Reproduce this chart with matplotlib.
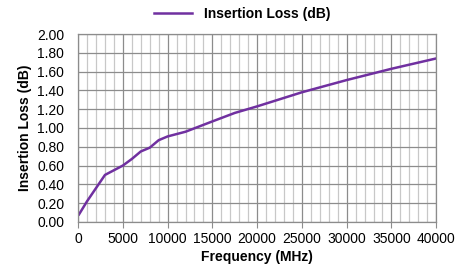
import matplotlib
matplotlib.use("Agg")
from matplotlib import pyplot as plt
from matplotlib.ticker import MultipleLocator

plt.rcParams['font.family'] = ['Liberation Sans', 'DejaVu Sans']

# values
freq_mhz = [100, 1000, 2000, 3000, 4000, 5000, 6000, 7000, 8000, 9000, 10000,
            12000, 15000, 17500, 20000, 25000, 30000, 35000, 40000]
loss_db = [0.08, 0.22, 0.36, 0.50, 0.55, 0.60, 0.67, 0.75, 0.79, 0.87, 0.91,
           0.96, 1.07, 1.16, 1.23, 1.38, 1.51, 1.63, 1.74]

fig = plt.figure(figsize=(4.65, 2.68), dpi=100)
ax = fig.add_axes([0.168, 0.172, 0.770, 0.701])

ax.plot(freq_mhz, loss_db, color='#7030a0', lw=1.8, label='Insertion Loss (dB)')

ax.set_xlim(0, 40000)
ax.set_ylim(0, 2.0)
ax.xaxis.set_major_locator(MultipleLocator(5000))
ax.xaxis.set_minor_locator(MultipleLocator(1000))
ax.yaxis.set_major_locator(MultipleLocator(0.2))
ax.yaxis.set_major_formatter(lambda v, p: f"{v:.2f}")

ax.grid(which='major', color='#8c8c8c', lw=0.9)
ax.grid(which='minor', axis='x', color='#c8c8c8', lw=0.9)
ax.set_axisbelow(True)
for s in ax.spines.values():
    s.set_color('#8c8c8c')
    s.set_linewidth(0.9)

ax.tick_params(which='major', length=4, color='#8c8c8c', labelsize=10)
ax.tick_params(which='minor', length=0)
ax.tick_params(axis='y', length=0, pad=10)

ax.set_xlabel('Frequency (MHz)', fontsize=10, fontweight='bold', labelpad=3)
ax.set_ylabel('Insertion Loss (dB)', fontsize=10, fontweight='bold', labelpad=4)

leg = fig.legend(loc='upper center', bbox_to_anchor=(0.52, 1.02), frameon=False,
                 prop={'size': 10, 'weight': 'bold'}, handlelength=2.8)

fig.savefig('out.png', dpi=100)
